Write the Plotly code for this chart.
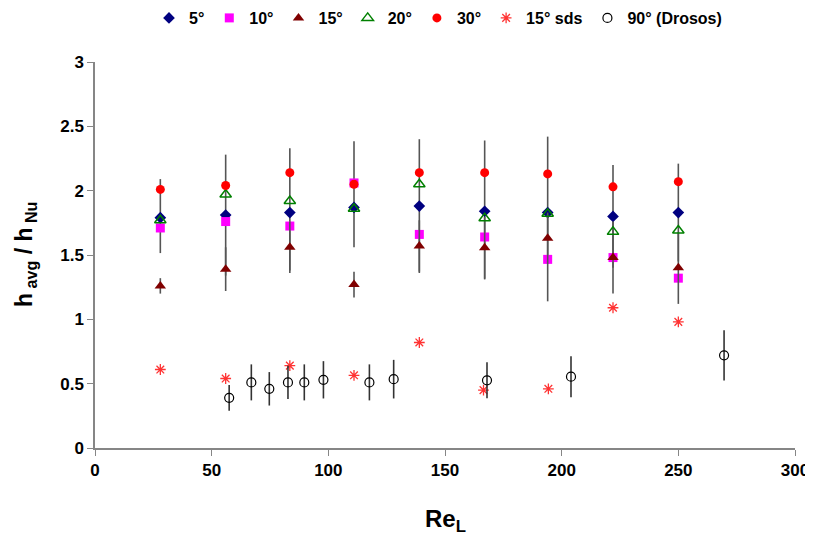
import plotly.graph_objects as go

re_main = [28, 56, 83.5, 111, 139, 167, 194, 222, 250]

h_5 = [1.79, 1.81, 1.83, 1.87, 1.88, 1.84, 1.83, 1.80, 1.83]
h_5_up = [0.30, 0.47, 0.50, 0.515, 0.52, 0.55, 0.59, 0.40, 0.38]
h_5_dn = [0.275, 0.47, 0.45, 0.31, 0.52, 0.53, 0.69, 0.40, 0.38]
h_10 = [1.71, 1.76, 1.725, 2.06, 1.66, 1.64, 1.466, 1.48, 1.32]
h_15 = [1.26, 1.39, 1.56, 1.27, 1.57, 1.556, 1.63, 1.48, 1.40]
h_15_err = [0.06, 0.17, 0.20, 0.10, 0.20, 0.24, 0.20, 0.28, 0.28]
h_20 = [1.77, 1.97, 1.92, 1.86, 2.05, 1.785, 1.82, 1.68, 1.69]
h_30 = [2.01, 2.04, 2.14, 2.05, 2.14, 2.14, 2.13, 2.03, 2.07]
h_15sds = [0.61, 0.54, 0.64, 0.565, 0.82, 0.45, 0.46, 1.09, 0.98]
re_sds = [28, 56, 83.5, 111, 139, 166.5, 194.3, 222, 250]

re_drosos = [57.5, 67, 74.7, 82.7, 89.7, 97.9, 117.6, 128, 168, 204, 269.6]
h_drosos = [0.39, 0.51, 0.46, 0.51, 0.51, 0.53, 0.51, 0.535, 0.526, 0.554, 0.72]
h_drosos_err = [0.10, 0.14, 0.13, 0.13, 0.14, 0.145, 0.14, 0.15, 0.14, 0.16, 0.195]

fnt = "Arial, Liberation Sans, sans-serif"

fig = go.Figure()

fig.add_trace(go.Scatter(
    x=re_main, y=h_5, mode="markers", name="5°",
    marker=dict(symbol="diamond", color="#000080", size=9),
    error_y=dict(type="data", symmetric=False, array=h_5_up, arrayminus=h_5_dn,
                 width=0, thickness=1.6, color="#555555"),
))
fig.add_trace(go.Scatter(
    x=re_main, y=h_10, mode="markers", name="10°",
    marker=dict(symbol="square", color="#FF00FF", size=9),
))
fig.add_trace(go.Scatter(
    x=re_main, y=h_15, mode="markers", name="15°",
    marker=dict(symbol="triangle-up", color="#800000", size=10),
    error_y=dict(type="data", array=h_15_err, width=0, thickness=1.6, color="#555555"),
))
fig.add_trace(go.Scatter(
    x=re_main, y=h_20, mode="markers", name="20°",
    marker=dict(symbol="triangle-up-open", color="#008000", size=10, line=dict(width=1.5)),
))
fig.add_trace(go.Scatter(
    x=re_main, y=h_30, mode="markers", name="30°",
    marker=dict(symbol="circle", color="#FF0000", size=9),
))
fig.add_trace(go.Scatter(
    x=re_sds, y=h_15sds, mode="markers", name="15° sds",
    marker=dict(symbol="asterisk-open", color="#FF3333", size=9, line=dict(width=1.3)),
))
fig.add_trace(go.Scatter(
    x=re_drosos, y=h_drosos, mode="markers", name="90° (Drosos)",
    marker=dict(symbol="circle-open", color="#000000", size=9, line=dict(width=1.2)),
    error_y=dict(type="data", array=h_drosos_err, width=0, thickness=1.6, color="#333333"),
))

# page body adds 8px offset, so margins are shifted accordingly
fig.update_layout(
    width=813, height=538,
    margin=dict(l=87, r=26, t=54, b=98, autoexpand=False),
    paper_bgcolor="white", plot_bgcolor="white",
    font=dict(family=fnt, size=15, color="black"),
    showlegend=True,
    legend=dict(orientation="h", x=0.49, xanchor="center", y=1.114, yanchor="middle",
                font=dict(size=16, weight="bold"), itemwidth=30, tracegroupgap=0),
)
fig.update_xaxes(
    range=[0, 300], tickvals=[0, 50, 100, 150, 200, 250, 300],
    showline=True, linecolor="#868686", linewidth=1.5,
    ticks="outside", ticklen=6, tickcolor="#868686", showgrid=False, zeroline=False,
    tickfont=dict(size=17, weight="bold"),
)
fig.update_yaxes(
    range=[0, 3], tickvals=[0, 0.5, 1, 1.5, 2, 2.5, 3],
    showline=True, linecolor="#868686", linewidth=1.5,
    ticks="outside", ticklen=6, tickcolor="#868686", showgrid=False, zeroline=False,
    tickfont=dict(size=17, weight="bold"),
)

# axis titles as annotations so they sit where the reference has them
fig.add_annotation(text="<b>Re<sub>L</sub></b>", xref="paper", yref="paper",
                   x=0.5, y=-0.187, xanchor="center", yanchor="middle",
                   showarrow=False, font=dict(size=24))
fig.add_annotation(text="<b>h<sub> avg</sub> / h<sub> Nu</sub></b>", xref="paper", yref="paper",
                   x=-0.1, y=0.5, xanchor="center", yanchor="middle", textangle=-90,
                   showarrow=False, font=dict(size=23))

fig.write_html("out.html")
